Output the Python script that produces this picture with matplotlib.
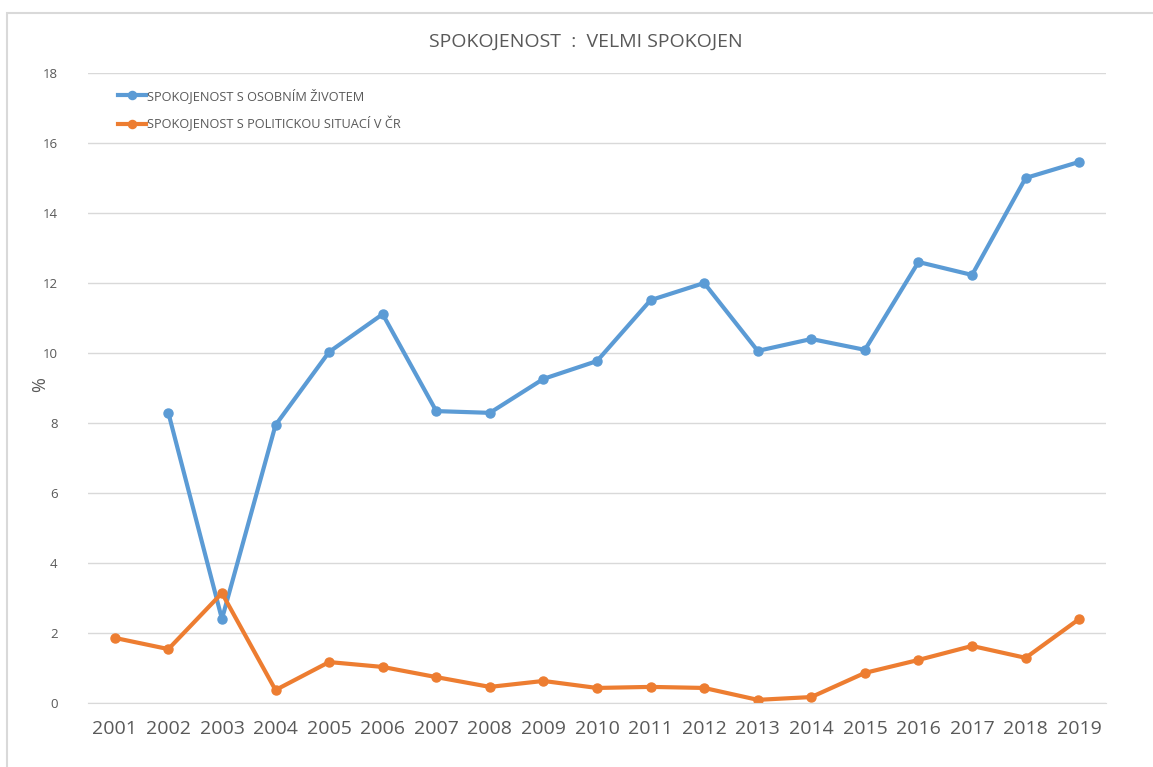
import matplotlib
matplotlib.use('Agg')
import matplotlib.pyplot as plt
from matplotlib.patches import Rectangle
import numpy as np

#*-*-*-*-*-*-*-*-*-*-*-*-*-*-*- DATA *-*-*-*-*-*-*-*-*-*-*-*-*-*-*-*-*-*-*-*-*-
years = [2001, 2002, 2003, 2004, 2005, 2006, 2007, 2008, 2009, 2010,
         2011, 2012, 2013, 2014, 2015, 2016, 2017, 2018, 2019]
# no value for 2001 in the personal-life series
osobni_zivot = [np.nan, 8.29, 2.4, 7.94, 10.03, 11.11, 8.34, 8.29, 9.26, 9.77,
                11.51, 12.0, 10.06, 10.4, 10.09, 12.6, 12.23, 15.0, 15.46]
politicka_situace = [1.86, 1.54, 3.14, 0.37, 1.17, 1.03, 0.74, 0.46, 0.63, 0.43,
                     0.46, 0.43, 0.09, 0.17, 0.86, 1.23, 1.63, 1.29, 2.4]
labels = ['SPOKOJENOST S OSOBNÍM ŽIVOTEM', 'SPOKOJENOST S POLITICKOU SITUACÍ V ČR']
y_ticks = [0, 2, 4, 6, 8, 10, 12, 14, 16, 18]

#*-*-*-*-*-*-*-*-*-*-*-*-*-*-*- PLOT *-*-*-*-*-*-*-*-*-*-*-*-*-*-*-*-*-*-*-*-*-
plt.rcParams['font.family'] = ['Open Sans', 'DejaVu Sans']
txt_col = '#595959'

fig = plt.figure(figsize=(11.53, 7.67), dpi=100)
ax = fig.add_axes([88/1153, 1-703/767, (1106-88)/1153, (703-73)/767])

# outer chart frame (right and bottom edges fall outside the picture)
fig.patches.append(Rectangle((7/1153, -0.1), 1.2, 1.1 - 13/767,
                             transform=fig.transFigure, fill=False,
                             edgecolor='#D9D9D9', lw=1.5))

line1, = ax.plot(years, osobni_zivot, color='#5B9BD5', lw=3, marker='o', ms=6.5)
line2, = ax.plot(years, politicka_situace, color='#ED7D31', lw=3, marker='o', ms=6.5)

ax.set_xlim(2000.5, 2019.5); ax.set_ylim(0, 18)
ax.set_xticks(years); ax.set_yticks(y_ticks)
ax.tick_params(axis='x', length=0, labelsize=14, labelcolor=txt_col, pad=12)
ax.tick_params(axis='y', length=0, labelsize=9.5, labelcolor=txt_col, pad=22)
ax.grid(True, axis='y', color='#D9D9D9', lw=1)
ax.set_axisbelow(True)
for s in ax.spines.values():
    s.set_visible(False)
ax.spines['bottom'].set_visible(True); ax.spines['bottom'].set_color('#D9D9D9')

fig.text(40/1153, 1-385/767, '%', rotation=90, ha='center', va='center', fontsize=13, color=txt_col)
fig.text(586/1153, 1-42/767, 'SPOKOJENOST  :  VELMI SPOKOJEN', ha='center', va='center',
         fontsize=14, color=txt_col)

leg = ax.legend((line1, line2), labels, loc='upper left', bbox_to_anchor=(0.018, 0.995),
                frameon=False, fontsize=9.2, handlelength=2.2, handletextpad=0.1,
                labelspacing=1.05, markerscale=0.9)
for t in leg.get_texts():
    t.set_color(txt_col)

plt.savefig('out.png', dpi=100)
plt.close('all')
